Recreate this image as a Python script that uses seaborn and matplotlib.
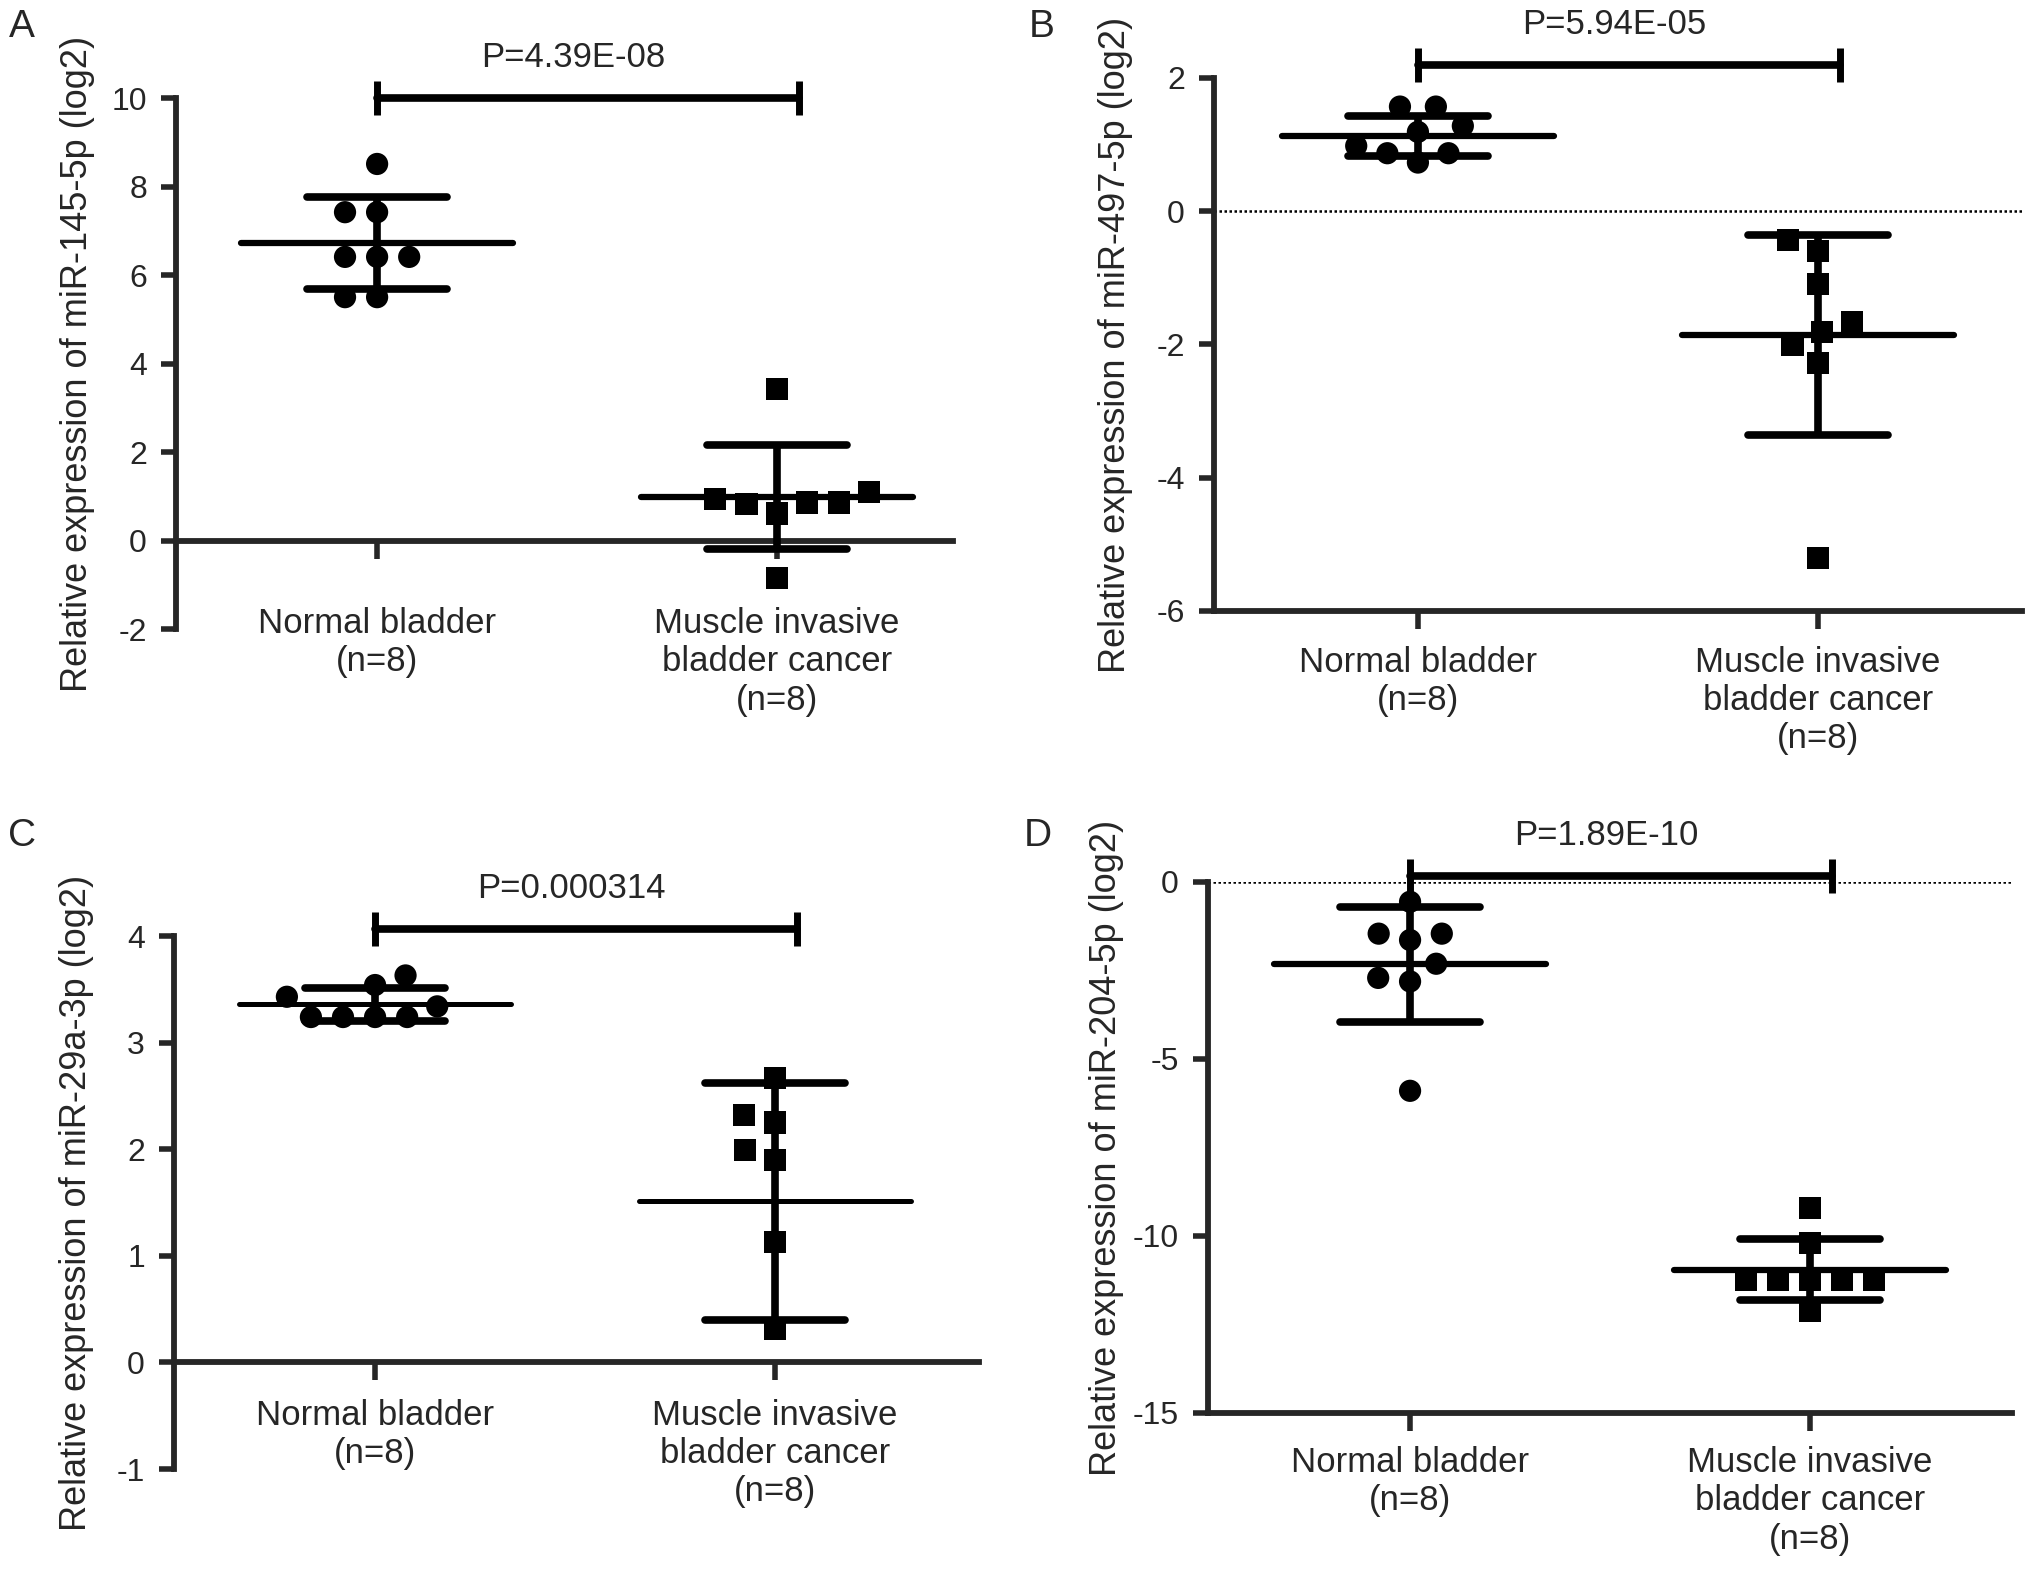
import numpy as np
import pandas as pd
import seaborn as sns
import matplotlib.pyplot as plt

groups = ["Normal bladder\n(n=8)", "Muscle invasive\nbladder cancer\n(n=8)"]

# A: miR-145-5p
a_normal = [8.51, 7.42, 7.42, 6.41, 6.41, 6.41, 5.50, 5.50]
a_cancer = [3.42, 1.09, 0.86, 0.82, 0.61, 0.86, 0.94, -0.85]
a_mean = [6.72, 0.98]
a_sd = [1.04, 1.18]

# B: miR-497-5p
b_normal = [1.57, 1.57, 1.19, 1.28, 0.87, 0.87, 0.73, 0.98]
b_cancer = [-0.43, -0.60, -1.09, -1.66, -1.81, -2.00, -2.28, -5.20]
b_mean = [1.13, -1.86]
b_sd = [0.30, 1.50]

# C: miR-29a-3p
c_normal = [3.54, 3.63, 3.43, 3.34, 3.24, 3.24, 3.24, 3.24]
c_cancer = [2.67, 2.32, 2.25, 1.99, 1.90, 1.13, 0.31]
c_mean = [3.36, 1.51]
c_sd = [0.155, 1.11]

# D: miR-204-5p
d_normal = [-0.56, -1.46, -1.46, -1.64, -2.31, -2.71, -2.81, -5.90]
d_cancer = [-9.21, -10.20, -11.24, -11.24, -11.24, -11.24, -11.24, -12.13]
d_mean = [-2.33, -10.95]
d_sd = [1.62, 0.87]

sns.set_style("ticks")
plt.rcParams["font.family"] = ["Liberation Sans", "DejaVu Sans"]
plt.rcParams["axes.unicode_minus"] = False

panels = [
    dict(letter="A", lxy=(0.011, 0.983), rect=[0.0867, 0.5996, 0.3826, 0.3380],
         normal=a_normal, cancer=a_cancer, mean=a_mean, sd=a_sd,
         ylabel="Relative expression of miR-145-5p (log2)", ylim=(-2, 10),
         yticks=np.arange(-2, 11, 2), xlim=(-0.5025, 1.44), zero_axis=True,
         dotted=False, bracket=10.0, pval="P=4.39E-08", xpad=35, labx=-0.104,
         mean_lw=4.5),
    dict(letter="B", lxy=(0.513, 0.983), rect=[0.5977, 0.6111, 0.3978, 0.3393],
         normal=b_normal, cancer=b_cancer, mean=b_mean, sd=b_sd,
         ylabel="Relative expression of miR-497-5p (log2)", ylim=(-6, 2),
         yticks=np.arange(-6, 3, 2), xlim=(-0.51, 1.51), zero_axis=False,
         dotted=True, bracket=2.2, pval="P=5.94E-05", xpad=12, labx=-0.10,
         mean_lw=4.5),
    dict(letter="C", lxy=(0.011, 0.468), rect=[0.0857, 0.0649, 0.3964, 0.3393],
         normal=c_normal, cancer=c_cancer, mean=c_mean, sd=c_sd,
         ylabel="Relative expression of miR-29a-3p (log2)", ylim=(-1, 4),
         yticks=np.arange(-1, 5, 1), xlim=(-0.5025, 1.51), zero_axis=True,
         dotted=False, bracket=4.07, pval="P=0.000314", xpad=13, labx=-0.10,
         mean_lw=3.6),
    dict(letter="D", lxy=(0.511, 0.468), rect=[0.5948, 0.1006, 0.3959, 0.3380],
         normal=d_normal, cancer=d_cancer, mean=d_mean, sd=d_sd,
         ylabel="Relative expression of miR-204-5p (log2)", ylim=(-15, 0),
         yticks=np.arange(-15, 1, 5), xlim=(-0.505, 1.505), zero_axis=False,
         dotted=True, bracket=0.17, pval="P=1.89E-10", xpad=11, labx=-0.104,
         mean_lw=4.5),
]

fig = plt.figure(figsize=(20.31, 15.71), dpi=100)

for p in panels:
    ax = fig.add_axes(p["rect"])
    df = pd.DataFrame({
        "group": [groups[0]] * len(p["normal"]) + [groups[1]] * len(p["cancer"]),
        "value": p["normal"] + p["cancer"],
    })
    # edge width only widens the swarm spacing, edges are not drawn
    for g, mk in zip(groups, ["o", "s"]):
        sns.swarmplot(data=df[df["group"] == g], x="group", y="value", order=groups,
                      marker=mk, color="black", size=16, linewidth=6,
                      edgecolor="none", ax=ax, zorder=3)

    if p["dotted"]:
        ax.axhline(0, color="black", lw=1.8, ls=(0, (1, 1)), zorder=1)

    # mean +- SD
    for i, (m, s) in enumerate(zip(p["mean"], p["sd"])):
        ax.vlines(i, m - s, m + s, color="black", lw=5.5, zorder=4)
        ax.hlines([m - s, m + s], i - 0.175, i + 0.175, color="black", lw=5.5,
                  capstyle="round", zorder=4)
        ax.hlines(m, i - 0.34, i + 0.34, color="black", lw=p["mean_lw"],
                  capstyle="round", zorder=4)

    # significance bracket
    by = p["bracket"]
    ax.plot([0, 1.055], [by, by], color="black", lw=5.5, clip_on=False, zorder=5)
    ax.plot([0, 1.055], [by, by], ls="none", marker="|", ms=25, mew=5,
            color="black", clip_on=False, zorder=5)
    ax.annotate(p["pval"], xy=(0.49, by), xytext=(0, 29), textcoords="offset points",
                ha="center", va="center", fontsize=25, annotation_clip=False)

    sns.despine(ax=ax)
    ax.spines[["left", "bottom"]].set_linewidth(4.2)
    if p["zero_axis"]:
        ax.spines["bottom"].set_position(("data", 0))

    ax.set_xlim(*p["xlim"])
    ax.set_ylim(*p["ylim"])
    ax.set_yticks(p["yticks"])
    ax.set_xlabel("")
    ax.set_ylabel(p["ylabel"], fontsize=26)
    ax.yaxis.set_label_coords(p["labx"], 0.5)
    ax.tick_params(axis="y", length=11, width=4, pad=10, labelsize=23)
    ax.tick_params(axis="x", length=13, width=4, pad=p["xpad"], labelsize=25)

    fig.text(p["lxy"][0], p["lxy"][1], p["letter"], fontsize=28, ha="center", va="center")

fig.savefig("out.png", dpi=100)
